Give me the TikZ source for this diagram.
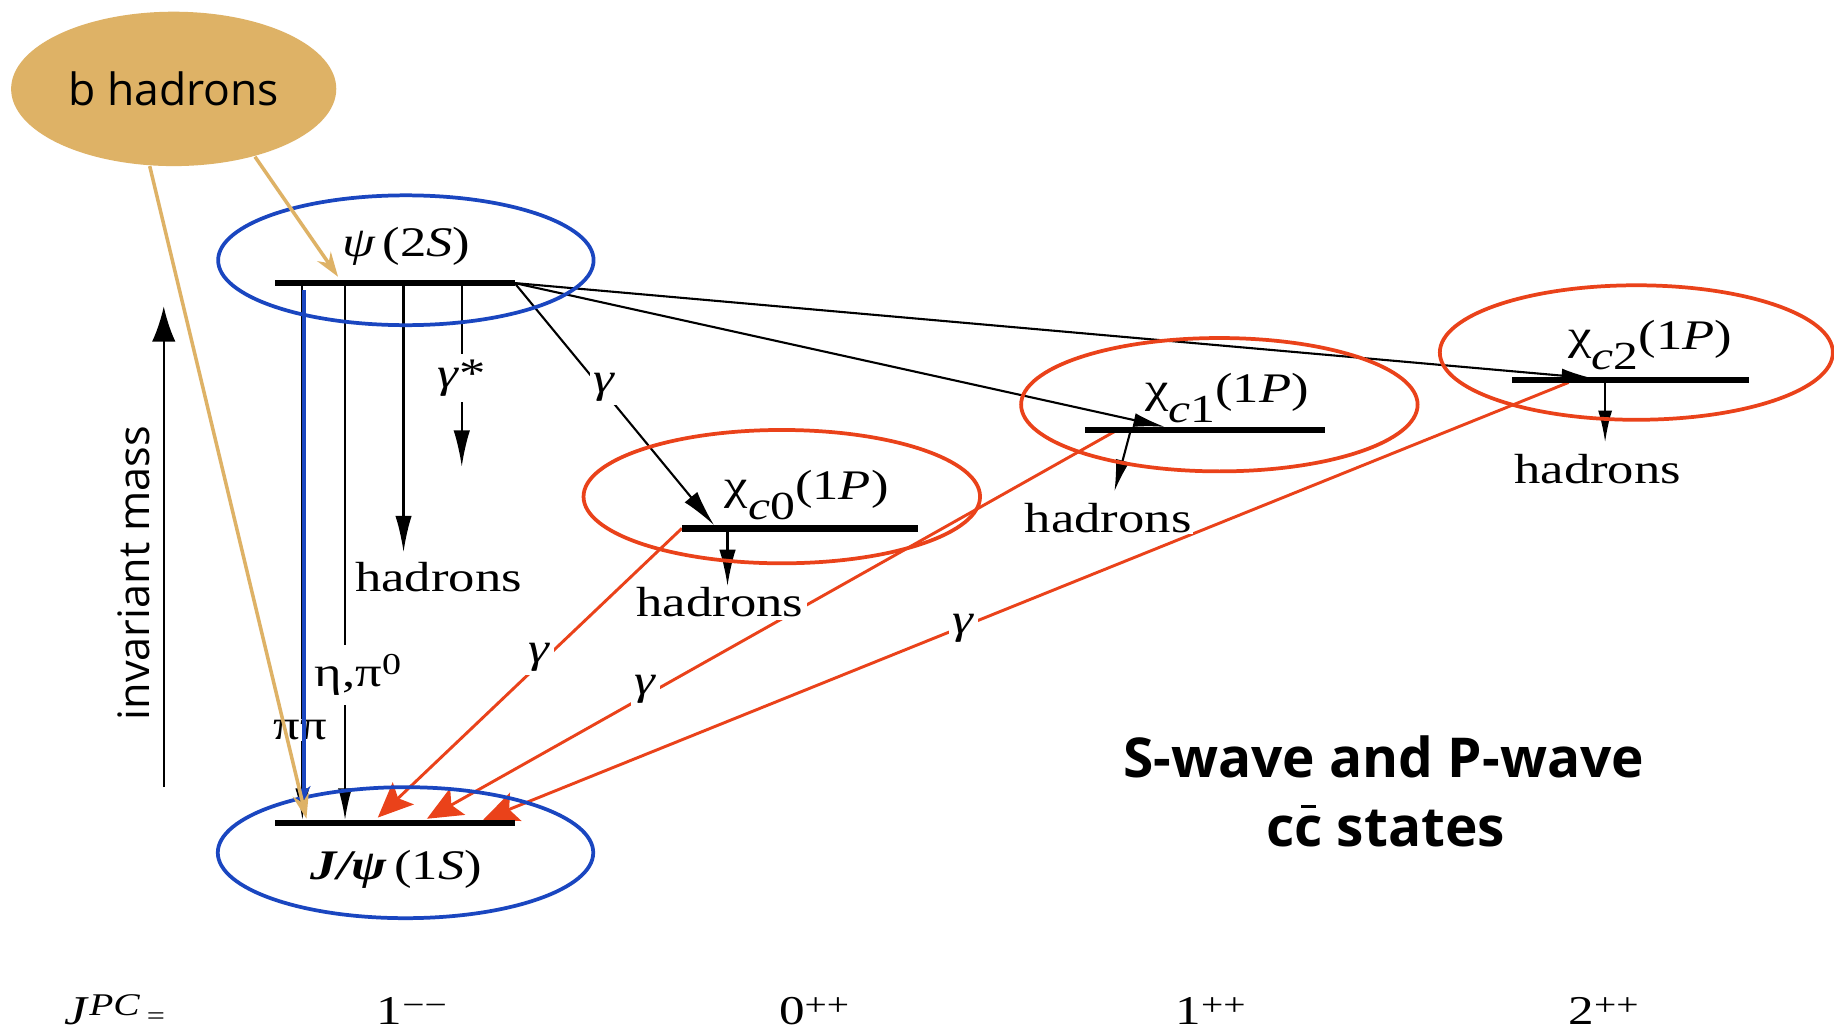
\documentclass[tikz,border=0pt]{standalone}
\usepackage{fontspec}
\setmainfont{Liberation Serif}
\newfontfamily\labfont[FakeStretch=1.25]{Liberation Serif}
\newfontfamily\opensans{Open Sans}
\usetikzlibrary{arrows.meta,shapes.geometric}
\definecolor{bhtan}{RGB}{222,178,102}
\definecolor{eblue}{RGB}{26,70,192}
\definecolor{ered}{RGB}{234,66,26}
\newcommand\chistate[1]{χ\raisebox{-17pt}{\fontsize{34}{34}\selectfont\textit{c}#1}(1\textit{P})}
\newcommand\supsc[1]{\raisebox{8pt}{\fontsize{27}{27}\selectfont #1}}
\newcommand\cbarchar{\leavevmode\ooalign{c\cr\hidewidth\raisebox{0.7em}{\rule{0.26em}{0.065em}}\hidewidth\cr}}
\begin{document}
\begin{tikzpicture}[x=1pt,y=-1pt,
  lvl/.style={fill=black,inner sep=0pt,minimum height=5.5pt},
  lab/.style={font=\labfont\fontsize{36}{40}\selectfont,inner sep=1.5pt},
  wlab/.style={lab,fill=white,inner sep=3pt},
  botlab/.style={font=\labfont\fontsize{35}{38}\selectfont,inner sep=0pt,anchor=base},
  thinln/.style={line width=1.8pt},
  blkarr/.style={thinln,-{Latex[length=31pt,width=14pt]}},
  smarr/.style={thinln,-{Latex[length=27pt,width=12pt]}},
  redln/.style={color=ered,line width=2.5pt},
  redarr/.style={redln,-{Stealth[length=30pt,width=26pt,inset=6pt]}},
  tanarr/.style={color=bhtan,line width=3pt,-{Stealth[length=21pt,width=14pt]}},
  bluearr/.style={color=eblue,line width=3pt,-{Stealth[length=12pt,width=11pt]}},
  blueell/.style={ellipse,draw=eblue,line width=3.2pt,inner sep=0pt},
  redell/.style={ellipse,draw=ered,line width=3.2pt,inner sep=0pt},
]
\fill[white] (0,0) rectangle (1568,881);
\useasboundingbox (0,0) rectangle (1568,881);

% b hadrons blob
\node[ellipse,fill=bhtan,minimum width=278pt,minimum height=132pt,inner sep=0pt,
      font=\opensans\fontsize{38}{40}\selectfont] (bh) at (148.5,76) {b hadrons};

% coordinates
\coordinate (p2r) at (440,242);
\coordinate (pp0) at (258.5,242);  \coordinate (pp1) at (258.5,701);
\coordinate (bl0) at (260,248);    \coordinate (bl1) at (260,684);
\coordinate (et0) at (295,242);    \coordinate (et1) at (295,701);
\coordinate (hd0) at (345,242);    \coordinate (hd1) at (345,472);
\coordinate (gs0) at (394.8,242);  \coordinate (gs1) at (394.8,399);
\coordinate (tc0tip) at (610.5,449);
\coordinate (tc1tip) at (996,365);
\coordinate (tc2tip) at (1362,323.5);
\coordinate (hc0a) at (622,452);   \coordinate (hc0b) at (622,501);
\coordinate (hc1a) at (966.4,369); \coordinate (hc1b) at (952.8,420);
\coordinate (hc2a) at (1372.3,325);\coordinate (hc2b) at (1372.3,378);
\coordinate (rs1) at (583,451.7);  \coordinate (rt1) at (323,699);
\coordinate (rs2) at (952.8,369);  \coordinate (rt2) at (365,700);
\coordinate (rs3) at (1341,327);   \coordinate (rt3) at (413,701);
\coordinate (ts1) at (218,134);    \coordinate (tt1) at (289,236.6);
\coordinate (ts2) at (128,142);    \coordinate (tt2) at (262,700);
\coordinate (im0) at (140,673);    \coordinate (im1) at (140,262);

% black transitions from psi(2S)
\draw[smarr] (pp0) -- (pp1);
\draw[smarr] (et0) -- (et1);
\draw[blkarr] (p2r) -- (tc0tip);
\draw[smarr] (p2r) -- (tc1tip);
\draw[smarr] (p2r) -- (tc2tip);
\draw[blkarr] (gs0) -- (gs1);

% red radiative transitions
\draw[redarr] (rs1) -- (rt1);
\draw[redarr] (rs2) -- (rt2);
\draw[redarr] (rs3) -- (rt3);

% level bars
\node[lvl,minimum width=205pt] (b2s) at (337.5,242) {};
\node[lvl,minimum width=205pt] (b1s) at (337.5,703.5) {};
\node[lvl,minimum width=202pt] (bc0) at (684,451.7) {};
\node[lvl,minimum width=205pt] (bc1) at (1030,367.6) {};
\node[lvl,minimum width=202pt] (bc2) at (1394,325) {};

% labels that interrupt lines
\node[wlab] (gc0) at (517,331) {\textit{γ}};
\node[wlab] (g1) at (461,562) {\textit{γ}};
\node[wlab] (g2) at (552,589) {\textit{γ}};
\node[wlab] (g3) at (824,537) {\textit{γ}};
\node[wlab,inner ysep=5pt] (gst) at (394.8,323) {\textit{γ}*};
\node[wlab,inner ysep=8pt] (etp) at (306,577) {η,π\raisebox{10pt}{\fontsize{26}{26}\selectfont 0}};
\node[wlab,inner sep=1pt] (pipi) at (256.5,624) {ππ};
\node[wlab,anchor=base,inner sep=1.5pt] (h2s) at (375,506) {hadrons};
\node[wlab,anchor=base] (hc0) at (615.5,527) {hadrons};
\node[wlab,anchor=base,inner sep=1.5pt] (hc1) at (947.5,455) {hadrons};
\node[wlab,anchor=base,inner sep=1.5pt] (hc2) at (1366,413) {hadrons};

% hadron decays
\draw[blkarr] (hd0) -- (hd1);
\draw[blkarr] (hc0a) -- (hc0b);
\draw[smarr] (hc1a) -- (hc1b);
\draw[smarr] (hc2a) -- (hc2b);

% state names
\node[lab,anchor=base] (t2s) at (347.5,219) {\textit{ψ}\,(2\textit{S})};
\node[lab,anchor=base] (t1s) at (339,752) {\textbf{\textit{J/ψ}}\,(1\textit{S})};
\node[lab,anchor=base] (tc0) at (689.7,427) {\chistate{0}};
\node[lab,anchor=base] (tc1) at (1049,344) {\chistate{1}};
\node[lab,anchor=base] (tc2) at (1411,299) {\chistate{2}};

% highlight ellipses
\node[blueell,minimum width=321pt,minimum height=111pt] (e2s) at (347,222.5) {};
\node[blueell,minimum width=321pt,minimum height=112pt] (e1s) at (346.7,729) {};
\node[redell,minimum width=339pt,minimum height=114pt] (ec0) at (668.4,424.6) {};
\node[redell,minimum width=339pt,minimum height=114pt] (ec1) at (1042.5,346) {};
\node[redell,minimum width=336pt,minimum height=115pt] (ec2) at (1399,301.4) {};

% blue pi pi transition
\draw[bluearr] (bl0) -- (bl1);

% b hadron feed-down
\draw[tanarr] (ts1) -- (tt1);
\draw[tanarr] (ts2) -- (tt2);

% invariant mass axis
\draw[thinln,-{Latex[length=30pt,width=20pt]}] (im0) -- (im1);
\node[font=\opensans\fontsize{37}{40}\selectfont,rotate=90,inner sep=0pt] (imlab) at (114,490) {invariant mass};

% title
\node[font=\opensans\bfseries\fontsize{47}{52}\selectfont,anchor=base,inner sep=0pt] (title1) at (1183,665) {S-wave and P-wave};
\node[font=\opensans\bfseries\fontsize{47}{52}\selectfont,anchor=base,inner sep=0pt] (title2) at (1184.5,724) {c\cbarchar{} states};

% quantum numbers
\node[botlab,anchor=base west] (jpc) at (55,876) {\textit{J}\supsc{\textit{PC}}\,{\fontsize{22}{22}\selectfont =}};
\node[botlab] (q1) at (352,876) {1\supsc{−−}};
\node[botlab] (q2) at (696,876) {0\supsc{++}};
\node[botlab] (q3) at (1035,876) {1\supsc{++}};
\node[botlab] (q4) at (1371,876) {2\supsc{++}};
\end{tikzpicture}
\end{document}
